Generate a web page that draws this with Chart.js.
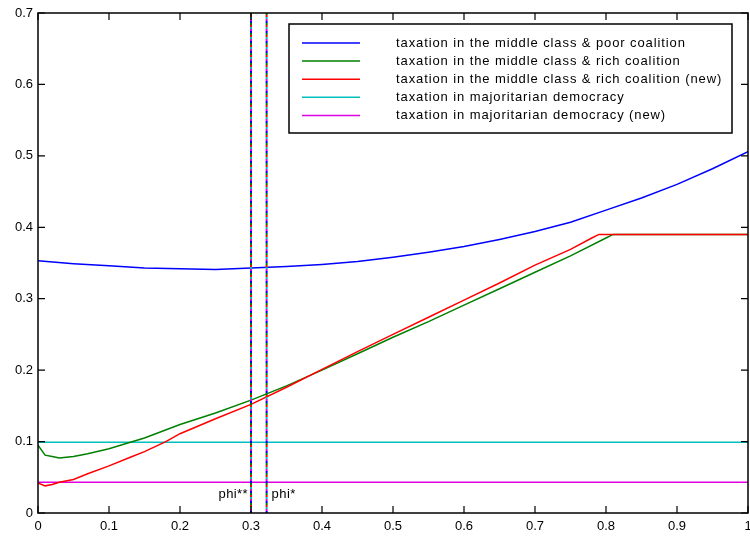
<!DOCTYPE html>
<html>
<head>
<meta charset="utf-8">
<script src="https://cdn.jsdelivr.net/npm/chart.js@4"></script>
<style>
  html, body { margin: 0; padding: 0; background: #fff; }
  #wrap { width: 750px; height: 537px; }
</style>
</head>
<body>
<div id="wrap"><canvas id="taxchart"></canvas></div>
<script>
// series
var xpoor = [0, 0.05, 0.1, 0.15, 0.2, 0.25, 0.3, 0.35, 0.4, 0.45, 0.5, 0.55, 0.6, 0.65, 0.7, 0.75, 0.8, 0.85, 0.9, 0.95, 1.0]
var ypoor = [0.353, 0.349, 0.346, 0.343, 0.342, 0.341, 0.343, 0.345, 0.348, 0.352, 0.358, 0.365, 0.373, 0.383, 0.394, 0.407, 0.424, 0.441, 0.460, 0.482, 0.506]

var xrich = [0, 0.01, 0.02, 0.03, 0.05, 0.07, 0.1, 0.13, 0.15, 0.2, 0.25, 0.3, 0.35, 0.4, 0.45, 0.5, 0.55, 0.6, 0.65, 0.7, 0.75, 0.8, 0.81, 0.9, 1.0]
var yrich = [0.095, 0.081, 0.079, 0.077, 0.079, 0.083, 0.090, 0.099, 0.105, 0.124, 0.140, 0.158, 0.178, 0.200, 0.223, 0.246, 0.268, 0.291, 0.314, 0.337, 0.360, 0.385, 0.390, 0.390, 0.390]

var xrichnew = [0, 0.01, 0.02, 0.03, 0.05, 0.07, 0.1, 0.13, 0.15, 0.18, 0.2, 0.25, 0.3, 0.35, 0.4, 0.45, 0.5, 0.55, 0.6, 0.65, 0.7, 0.75, 0.78, 0.79, 0.9, 1.0]
var yrichnew = [0.042, 0.038, 0.040, 0.043, 0.047, 0.055, 0.066, 0.078, 0.086, 0.100, 0.111, 0.132, 0.152, 0.176, 0.201, 0.226, 0.250, 0.274, 0.298, 0.322, 0.347, 0.369, 0.385, 0.390, 0.390, 0.390]

var majority = 0.099
var majoritynew = 0.043
var phi2 = 0.3, phi1 = 0.322

var names = [
    'taxation in the middle class & poor coalition',
    'taxation in the middle class & rich coalition',
    'taxation in the middle class & rich coalition (new)',
    'taxation in majoritarian democracy',
    'taxation in majoritarian democracy (new)'
]
var colors = ['#0000ff', '#008000', '#ff0000', '#00bfbf', '#e000e0']

var xticks = [0, 0.1, 0.2, 0.3, 0.4, 0.5, 0.6, 0.7, 0.8, 0.9, 1]
var yticks = [0, 0.1, 0.2, 0.3, 0.4, 0.5, 0.6, 0.7]

function pts(xs, ys) {
    var out = []
    for (var i = 0; i < xs.length; i++) out.push({x: xs[i], y: ys[i]})
    return out
}

var datasets = []
// multicolour dotted phi lines, drawn on top
;[phi2, phi1].forEach(function(px) {
    for (var k = 0; k < colors.length; k++) {
        datasets.push({
            data: [{x: px, y: 0}, {x: px, y: 0.7}],
            borderColor: colors[k],
            borderWidth: 2,
            borderDash: [2, 8],
            borderDashOffset: k * 2,
            pointRadius: 0,
            order: 0
        })
    }
})
datasets.push({data: pts(xpoor, ypoor), borderColor: colors[0], borderWidth: 1.5, pointRadius: 0, order: 1})
datasets.push({data: pts(xrichnew, yrichnew), borderColor: colors[2], borderWidth: 1.5, pointRadius: 0, order: 1})
datasets.push({data: pts(xrich, yrich), borderColor: colors[1], borderWidth: 1.5, pointRadius: 0, order: 2})
datasets.push({data: [{x: 0, y: majority}, {x: 1, y: majority}], borderColor: colors[3], borderWidth: 1.5, pointRadius: 0, order: 2})
datasets.push({data: [{x: 0, y: majoritynew}, {x: 1, y: majoritynew}], borderColor: colors[4], borderWidth: 1.5, pointRadius: 0, order: 2})

var fontFam = '"Liberation Sans", Arial, sans-serif'

// matlab-ish frame, inward ticks, legend box and phi labels
var matlabBits = {
    id: 'matlabBits',
    afterDatasetsDraw: function(chart) {
        var c = chart.ctx, a = chart.chartArea
        var xs = chart.scales.x, ys = chart.scales.y
        c.save()
        c.strokeStyle = '#000'
        c.lineWidth = 1.5
        c.strokeRect(a.left, a.top, a.right - a.left, a.bottom - a.top)
        c.lineWidth = 1.2
        c.beginPath()
        xticks.forEach(function(v) {
            var p = xs.getPixelForValue(v)
            c.moveTo(p, a.bottom); c.lineTo(p, a.bottom - 7)
            c.moveTo(p, a.top); c.lineTo(p, a.top + 7)
        })
        yticks.forEach(function(v) {
            var p = ys.getPixelForValue(v)
            c.moveTo(a.left, p); c.lineTo(a.left + 7, p)
            c.moveTo(a.right, p); c.lineTo(a.right - 7, p)
        })
        c.stroke()

        // phi labels
        c.fillStyle = '#000'
        c.font = '13px ' + fontFam
        c.letterSpacing = '0.4px'
        c.textBaseline = 'alphabetic'
        c.textAlign = 'right'
        c.fillText('phi**', xs.getPixelForValue(phi2) - 3, 498)
        c.textAlign = 'left'
        c.fillText('phi*', xs.getPixelForValue(phi1) + 5, 498)

        // legend box
        var bx = 289, by = 24, bw = 443, bh = 109
        c.fillStyle = '#fff'
        c.fillRect(bx, by, bw, bh)
        c.lineWidth = 1.5
        c.strokeStyle = '#000'
        c.strokeRect(bx, by, bw, bh)
        c.font = '13px ' + fontFam
        c.letterSpacing = '0.9px'
        c.textBaseline = 'middle'
        for (var i = 0; i < names.length; i++) {
            var ly = 43 + i * 18.1
            c.strokeStyle = colors[i]
            c.lineWidth = 1.5
            c.beginPath(); c.moveTo(302, ly); c.lineTo(360, ly); c.stroke()
            c.fillStyle = '#000'
            c.fillText(names[i], 396, ly)
        }
        c.restore()
    }
}

var ctx = document.getElementById('taxchart').getContext('2d')
var myChart = new Chart(ctx, {
    type: 'line',
    data: { datasets: datasets },
    options: {
        responsive: true,
        maintainAspectRatio: false,
        animation: false,
        layout: { padding: { top: 13, right: 2, left: 0, bottom: 0 } },
        plugins: { legend: { display: false }, tooltip: { enabled: false } },
        elements: { line: { tension: 0 } },
        scales: {
            x: {
                type: 'linear', min: 0, max: 1,
                afterBuildTicks: function(s) { s.ticks = xticks.map(function(v) { return {value: v} }) },
                afterFit: function(s) { s.height = 24; s.paddingRight = 0; s.paddingLeft = 0 },
                grid: { display: false, drawTicks: false },
                border: { display: false },
                ticks: {
                    color: '#000', padding: 6, maxRotation: 0, autoSkip: false,
                    font: { family: fontFam, size: 13 },
                    callback: function(v) { return String(Number(v.toFixed(1))) }
                }
            },
            y: {
                type: 'linear', min: 0, max: 0.7,
                afterBuildTicks: function(s) { s.ticks = yticks.map(function(v) { return {value: v} }) },
                afterFit: function(s) { s.width = 38; s.paddingTop = 0; s.paddingBottom = 0 },
                grid: { display: false, drawTicks: false },
                border: { display: false },
                ticks: {
                    color: '#000', padding: 5,
                    font: { family: fontFam, size: 13 },
                    callback: function(v) { return String(Number(v.toFixed(1))) }
                }
            }
        }
    },
    plugins: [matlabBits]
})
</script>
</body>
</html>
